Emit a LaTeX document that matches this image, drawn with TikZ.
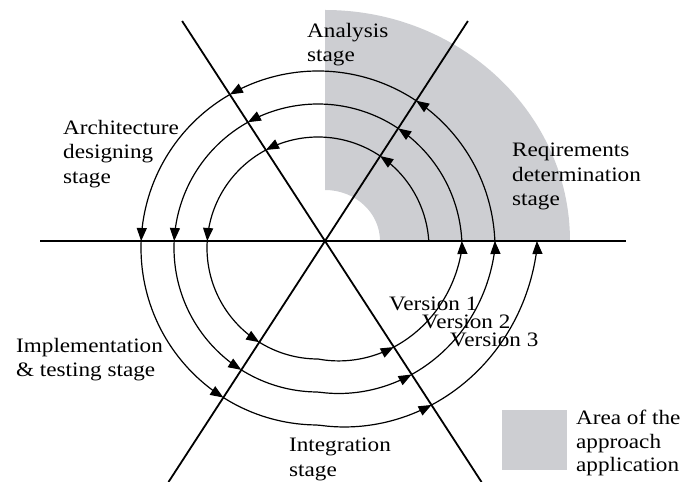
\documentclass[tikz,border=0pt]{standalone}
\usepackage{fontspec}
\setmainfont{Liberation Serif}[FakeStretch=1.13]
\usetikzlibrary{arrows.meta}
\definecolor{areagray}{RGB}{205,206,210}
\tikzset{
  axisline/.style={line width=1.8pt, black},
  spiralseg/.style={line width=1.2pt, black, -{Triangle[length=13pt,width=10pt]}},
  lbl/.style={anchor=north west, inner sep=0pt, align=left, font=\fontsize{20.5}{24.5}\selectfont},
  legendlbl/.style={lbl, font=\fontsize{20.5}{23.5}\selectfont}
}
% #1 start angle, #2 end angle, #3 loop radius, #4 next loop radius, #5 loop base angle
\newcommand\spseg[5]{\draw[spiralseg] plot[domain=#1:#2, samples=40, variable=\t, smooth]
  ({318+(#3+(#4-#3)*min(1,max(0,(\t-#5-270)/90)))*cos(\t)},
   {234+(#3+(#4-#3)*min(1,max(0,(\t-#5-270)/90)))*sin(\t)});}
\begin{document}
\begin{tikzpicture}[x=1pt,y=1pt]
\useasboundingbox (0,0) rectangle (683,482);
\coordinate (O) at (325,241);
% shaded area
\fill[areagray] (380,241) -- (570,241) arc[start angle=0, end angle=90, x radius=245, y radius=231]
  -- (325,292) arc[start angle=90, end angle=0, x radius=55, y radius=51] -- cycle;
% axes
\coordinate (hl) at (40,241);
\coordinate (hr) at (626,241);
\coordinate (dtop) at (467.9,461);
\coordinate (dbot) at (168.5,0);
\coordinate (ctop) at (182.1,461);
\coordinate (cbot) at (481.5,0);
\draw[axisline] (hl) -- (hr);
\draw[axisline] (dbot) -- (dtop);
\draw[axisline] (ctop) -- (cbot);
% spiral, loop 1
\spseg{3.62}{55.94}{111}{144}{0}
\spseg{55.94}{117.99}{111}{144}{0}
\spseg{117.99}{176.38}{111}{144}{0}
\spseg{176.38}{238.07}{111}{144}{0}
\spseg{238.07}{307.4}{111}{144}{0}
\spseg{307.4}{362.79}{111}{144}{0}
% loop 2
\spseg{362.79}{416.19}{144}{177}{360}
\spseg{416.19}{479.14}{144}{177}{360}
\spseg{479.14}{537.21}{144}{177}{360}
\spseg{537.21}{597.82}{144}{177}{360}
\spseg{597.82}{666.5}{144}{177}{360}
\spseg{666.5}{722.27}{144}{177}{360}
% loop 3
\spseg{722.27}{776.33}{177}{219}{720}
\spseg{776.33}{839.86}{177}{219}{720}
\spseg{839.86}{897.73}{177}{219}{720}
\spseg{897.73}{957.67}{177}{219}{720}
\spseg{957.67}{1025.9}{177}{219}{720}
\spseg{1025.9}{1081.83}{177}{219}{720}
% labels
\node[lbl] (analysis) at (307,459) {Analysis\\stage};
\node[lbl] (arch) at (63,362) {Architecture\\designing\\stage};
\node[lbl] (req) at (512,339) {Reqirements\\determination\\stage};
\node[lbl] (impl) at (16,144) {Implementation\\\& testing stage};
\node[lbl] (integ) at (289,44) {Integration\\stage};
\node[lbl] (v1) at (389,185) {Version 1};
\node[lbl] (v2) at (422,167) {Version 2};
\node[lbl] (v3) at (450,149) {Version 3};
% legend
\fill[areagray] (502,12) rectangle (567,72);
\node[legendlbl] (legend) at (576,72) {Area of the\\approach\\application};
\end{tikzpicture}
\end{document}
